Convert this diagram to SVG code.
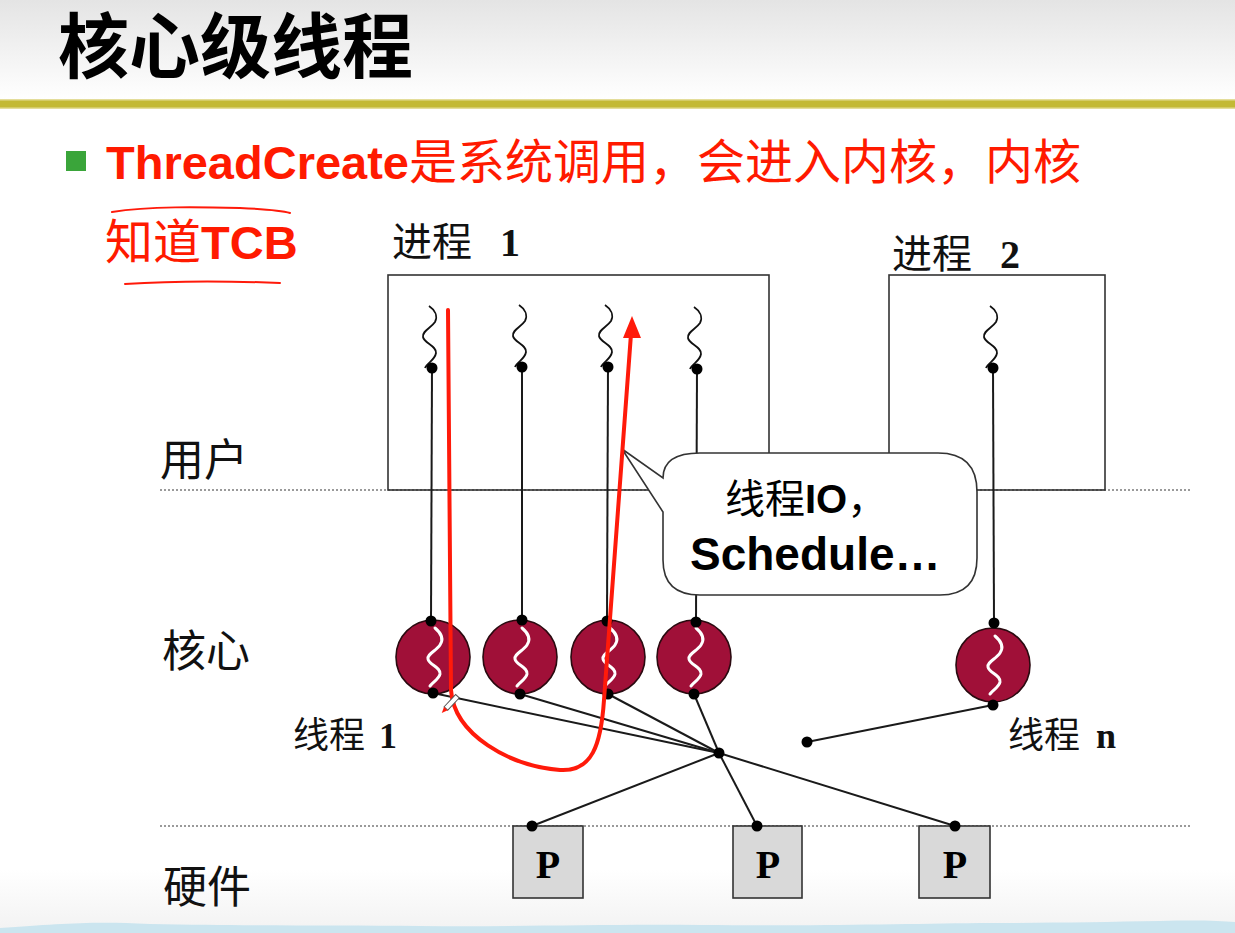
<svg xmlns="http://www.w3.org/2000/svg" xmlns:xlink="http://www.w3.org/1999/xlink" width="1235" height="933" viewBox="0 0 1235 933">
<style>
.cjk{font-family:"Liberation Sans","Noto Sans CJK SC",sans-serif;}
.lbl{font-family:"Liberation Sans","Noto Sans CJK SC",sans-serif;font-size:44px;fill:#111;}
.ser{font-family:"Liberation Serif","Noto Sans CJK SC",serif;font-weight:bold;}
.arb{font-family:"Liberation Sans","Noto Sans CJK SC",sans-serif;font-weight:bold;}
.box{fill:none;stroke:#333;stroke-width:1.6;}
.ln{stroke:#1a1a1a;stroke-width:2;fill:none;}
.dot{fill:#000;}
.kc{fill:#a01038;stroke:#2a0a10;stroke-width:1.6;}
.ws{fill:none;stroke:#fff;stroke-width:3;stroke-linecap:round;}
.us{fill:none;stroke:#111;stroke-width:1.8;}
.dash{stroke:#9a9a9a;stroke-width:2;stroke-dasharray:2 2;}
.pb{fill:#d9d9d9;stroke:#333;stroke-width:1.6;}
.red{stroke:#ff1a0a;fill:none;stroke-linecap:round;}
</style>
<defs>
<linearGradient id="topg" x1="0" y1="0" x2="0" y2="1"><stop offset="0" stop-color="#e4e4e4"/><stop offset="1" stop-color="#ffffff"/></linearGradient>
<linearGradient id="botg" x1="0" y1="0" x2="0" y2="1"><stop offset="0" stop-color="#ffffff"/><stop offset="1" stop-color="#f2f2f2"/></linearGradient>
<path id="usq" d="M-3,-62 C3,-58 6,-52 3,-46 C-1,-40 -10,-37 -9,-31 C-8,-25 5,-22 4,-15 C3,-8 -5,-5 -7,0"/>
<path id="ksq" d="M2,-29 C8,-24 11,-18 7,-12 C3,-6 -6,-3 -5,2 C-4,8 8,10 7,17 C6,22 0,25 -3,29"/>
</defs>
<rect x="0" y="0" width="1235" height="933" fill="#fff"/>
<rect x="0" y="0" width="1235" height="100" fill="url(#topg)"/>
<rect x="0" y="870" width="1235" height="63" fill="url(#botg)"/>
<path d="M0,928 C60,924 90,921 150,924 C250,926 330,925 420,926 C520,927 600,924 700,925 C820,926 900,924 980,923 C1050,923 1100,922 1160,921 C1200,920 1220,921 1235,922 V933 H0 Z" fill="#cbe5ef"/>

<g id="title">
<text x="58" y="72" class="cjk" font-size="71" font-weight="700" fill="#000">核心级线程</text>
<rect x="0" y="100" width="1235" height="8" fill="#c3b935"/>
<rect x="0" y="99" width="1235" height="1.5" fill="#e4dd9a"/>
<rect x="0" y="107.5" width="1235" height="1.5" fill="#e4dd9a"/>
</g>

<g id="bullet">
<rect x="66" y="151" width="20" height="20" fill="#3aa53a"/>
<text x="106" y="179" fill="#ff1a00"><tspan class="arb" font-size="47">ThreadCreate</tspan><tspan class="cjk" font-size="48">是系统调用，会进入内核，内核</tspan></text>
<text x="105" y="259" fill="#ff1a00"><tspan class="cjk" font-size="48">知道</tspan><tspan class="arb" font-size="47">TCB</tspan></text>
<path class="red" stroke-width="2" d="M112,212 C150,206 200,207 240,208 C262,209 280,210 290,213"/>
<path class="red" stroke-width="2" d="M125,284 C170,281 230,281 280,283"/>
</g>

<g id="layers">
<line class="dash" x1="160" y1="490" x2="1190" y2="490"/>
<line class="dash" x1="160" y1="826" x2="1190" y2="826"/>
<text x="160" y="476" class="lbl">用户</text>
<text x="162" y="667" class="lbl">核心</text>
<text x="163" y="903" class="lbl">硬件</text>
</g>

<g id="process1">
<rect class="box" x="388" y="275" width="381" height="215" fill="#fff"/>
<text x="392" y="256" font-size="40" fill="#111"><tspan class="cjk">进程</tspan><tspan class="ser" x="500">1</tspan></text>
</g>
<g id="process2">
<rect class="box" x="889" y="275" width="216" height="215" fill="#fff"/>
<text x="892" y="268" font-size="40" fill="#111"><tspan class="cjk">进程</tspan><tspan class="ser" x="1000">2</tspan></text>
</g>

<g id="connectors">
<line class="ln" x1="432" y1="368" x2="431" y2="621"/>
<line class="ln" x1="522" y1="367" x2="522" y2="620"/>
<line class="ln" x1="608" y1="367" x2="607" y2="621"/>
<line class="ln" x1="697" y1="369" x2="696" y2="622"/>
<line class="ln" x1="993" y1="368" x2="994" y2="623"/>
<line class="ln" x1="433" y1="693" x2="719" y2="753"/>
<line class="ln" x1="520" y1="694" x2="719" y2="753"/>
<line class="ln" x1="608" y1="694" x2="719" y2="753"/>
<line class="ln" x1="694" y1="694" x2="719" y2="753"/>
<line class="ln" x1="719" y1="753" x2="532" y2="826"/>
<line class="ln" x1="719" y1="753" x2="757" y2="826"/>
<line class="ln" x1="719" y1="753" x2="955" y2="826"/>
<line class="ln" x1="807" y1="742" x2="993" y2="705"/>
</g>

<g id="uthread1"><use href="#usq" xlink:href="#usq" x="432" y="368" class="us"/><circle class="dot" cx="432" cy="368" r="5.5"/></g>
<g id="uthread2"><use href="#usq" xlink:href="#usq" x="522" y="367" class="us"/><circle class="dot" cx="522" cy="367" r="5.5"/></g>
<g id="uthread3"><use href="#usq" xlink:href="#usq" x="608" y="367" class="us"/><circle class="dot" cx="608" cy="367" r="5.5"/></g>
<g id="uthread4"><use href="#usq" xlink:href="#usq" x="697" y="369" class="us"/><circle class="dot" cx="697" cy="369" r="5.5"/></g>
<g id="uthread5"><use href="#usq" xlink:href="#usq" x="993" y="368" class="us"/><circle class="dot" cx="993" cy="368" r="5.5"/></g>

<g id="kthread1"><circle class="kc" cx="433" cy="657" r="37"/><use href="#ksq" xlink:href="#ksq" x="433" y="657" class="ws"/><circle class="dot" cx="431" cy="621" r="5.5"/><circle class="dot" cx="433" cy="693" r="5.5"/></g>
<g id="kthread2"><circle class="kc" cx="520" cy="657" r="37"/><use href="#ksq" xlink:href="#ksq" x="520" y="657" class="ws"/><circle class="dot" cx="522" cy="620" r="5.5"/><circle class="dot" cx="520" cy="694" r="5.5"/></g>
<g id="kthread3"><circle class="kc" cx="608" cy="657" r="37"/><use href="#ksq" xlink:href="#ksq" x="608" y="657" class="ws"/><circle class="dot" cx="607" cy="621" r="5.5"/><circle class="dot" cx="608" cy="694" r="5.5"/></g>
<g id="kthread4"><circle class="kc" cx="694" cy="657" r="37"/><use href="#ksq" xlink:href="#ksq" x="694" y="657" class="ws"/><circle class="dot" cx="696" cy="622" r="5.5"/><circle class="dot" cx="694" cy="694" r="5.5"/></g>
<g id="kthread5"><circle class="kc" cx="993" cy="665" r="37"/><use href="#ksq" xlink:href="#ksq" x="993" y="665" class="ws"/><circle class="dot" cx="994" cy="623" r="5.5"/><circle class="dot" cx="993" cy="705" r="5.5"/></g>

<g id="hub"><circle class="dot" cx="719" cy="753" r="5.5"/></g>
<g id="loose"><circle class="dot" cx="807" cy="742" r="5.5"/></g>

<g id="label1"><text x="293" y="748" font-size="36" fill="#111"><tspan class="cjk">线程</tspan><tspan class="ser" x="379">1</tspan></text></g>
<g id="labeln"><text x="1008" y="748" font-size="36" fill="#111"><tspan class="cjk">线程</tspan><tspan class="ser" x="1096">n</tspan></text></g>

<g id="P1"><rect class="pb" x="513" y="826" width="70" height="72"/><text x="548" y="878" class="ser" font-size="40" text-anchor="middle">P</text><circle class="dot" cx="532" cy="826" r="5.5"/></g>
<g id="P2"><rect class="pb" x="733" y="826" width="69" height="72"/><text x="768" y="878" class="ser" font-size="40" text-anchor="middle">P</text><circle class="dot" cx="757" cy="826" r="5.5"/></g>
<g id="P3"><rect class="pb" x="919" y="826" width="71" height="72"/><text x="955" y="878" class="ser" font-size="40" text-anchor="middle">P</text><circle class="dot" cx="955" cy="826" r="5.5"/></g>

<g id="bubble">
<path d="M663,478 Q663,453 700,453 H938 Q977,453 977,492 V558 Q977,595 940,595 H700 Q663,595 663,560 V512 L622,449 Z" fill="#fff" stroke="#333" stroke-width="1.6"/>
<text x="725" y="513" font-size="40" fill="#000"><tspan class="cjk">线程</tspan><tspan class="arb">IO</tspan><tspan class="cjk">，</tspan></text>
<text x="690" y="570" class="arb" font-size="46" fill="#000">Schedule…</text>
</g>

<g id="annotation">
<path class="red" stroke-width="4" d="M448,310 L451,690 C454,735 510,766 560,770 C592,772 601,745 604,700 L631,334"/>
<polygon points="632,316 641,338 623,338" fill="#ff1a0a"/>
<g transform="translate(452,702) rotate(-47)">
<rect x="-9" y="-2.5" width="17" height="5" fill="#fff" stroke="#555" stroke-width="1"/>
<polygon points="-9,-2.5 -9,2.5 -15,0" fill="#ff1a0a"/>
</g>
</g>
</svg>
